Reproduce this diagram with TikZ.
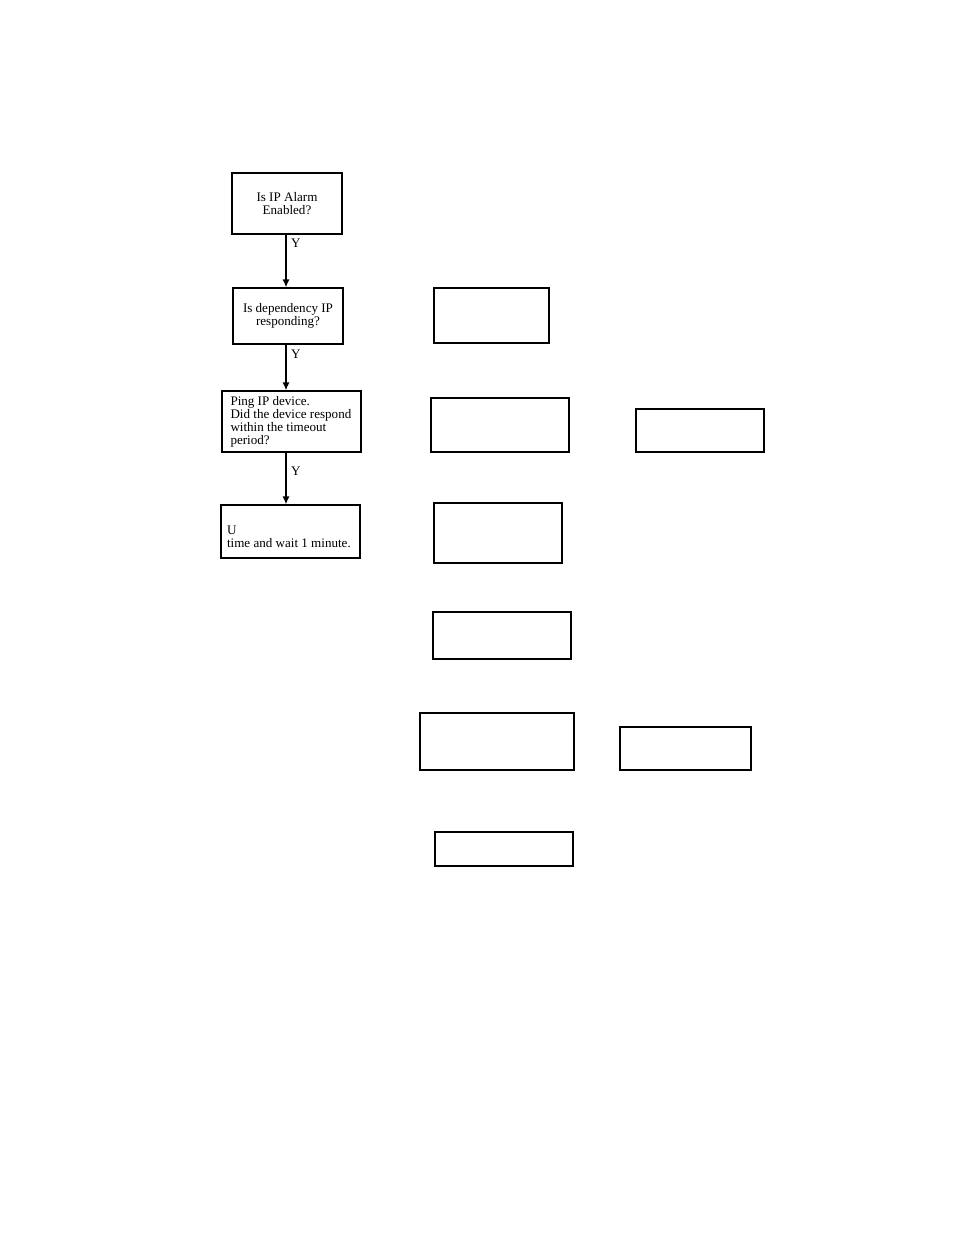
\documentclass[tikz,border=0pt]{standalone}
\usepackage{fontspec}
\setmainfont{Liberation Serif}
\usetikzlibrary{arrows.meta}

\begin{document}
\begin{tikzpicture}[x=0.75pt, y=-0.75pt,
  box/.style={draw, line width=1.1pt, rectangle, inner sep=0pt, font=\fontsize{9.8}{9.75}\selectfont},
  leftbox/.style={box, align=flush left, inner xsep=6.3pt},
  flow/.style={line width=1.1pt, -{Latex[length=6pt, width=5.5pt]}}]
            \useasboundingbox (0,0) rectangle (954,1235);

            % left column
            \node[box, align=center, minimum width=82.5pt, minimum height=45.75pt] (alarm) at (287,203.5) {Is IP Alarm\\Enabled?};
            \node[box, align=center, minimum width=82.5pt, minimum height=42pt] (dep) at (288,316) {Is dependency IP\\responding?};
            \node[leftbox, text width=91.5pt, minimum height=45.75pt] (ping) at (291.5,421.5) {Ping IP device.\\Did the device respond\\within the timeout\\period?};
            \node[leftbox, inner xsep=4.5pt, text width=95.2pt, minimum height=39.75pt] (update) at (290.5,531.5) {\\[5pt]U\\time and wait 1 minute.};

            % right boxes
            \node[box, minimum width=86.25pt, minimum height=41.25pt] (boxA) at (491.5,315.5) {};
            \node[box, minimum width=103.5pt, minimum height=40.5pt] (boxB) at (500,425) {};
            \node[box, minimum width=96pt, minimum height=32.25pt] (boxC) at (700,430.5) {};
            \node[box, minimum width=96pt, minimum height=45pt] (boxD) at (498,533) {};
            \node[box, minimum width=103.5pt, minimum height=35.25pt] (boxE) at (502,635.5) {};
            \node[box, minimum width=115.5pt, minimum height=42.75pt] (boxF) at (497,741.5) {};
            \node[box, minimum width=98.25pt, minimum height=32.25pt] (boxG) at (685.5,748.5) {};
            \node[box, minimum width=103.5pt, minimum height=25.5pt] (boxH) at (504,849) {};

            \coordinate (a1) at (286,0);
            \draw[flow] (alarm.south -| a1) -- (dep.north -| a1) node[pos=0.17, right, font=\fontsize{9.8}{9.75}\selectfont] {Y};
            \draw[flow] (dep.south -| a1) -- (ping.north -| a1) node[pos=0.2, right, font=\fontsize{9.8}{9.75}\selectfont] {Y};
            \draw[flow] (ping.south -| a1) -- (update.north -| a1) node[pos=0.36, right, font=\fontsize{9.8}{9.75}\selectfont] {Y};
        \end{tikzpicture}
\end{document}
